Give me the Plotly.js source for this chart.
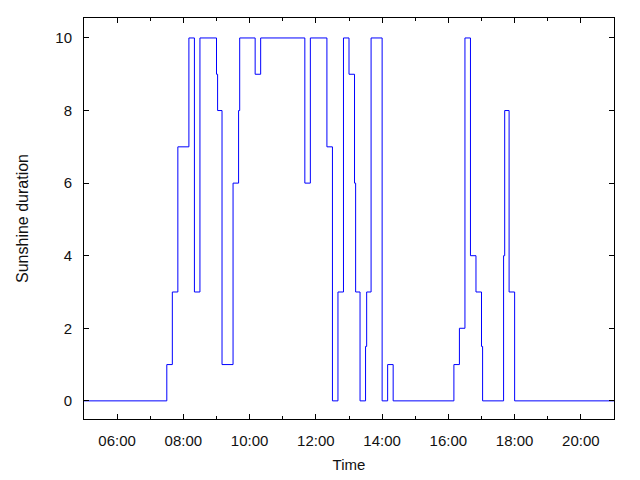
<!DOCTYPE html>
<html>
<head>
<meta charset="utf-8">
<script src="https://cdn.plot.ly/plotly-3.0.1.min.js"></script>
<style>html,body{margin:0;padding:0;background:#fff}#chart{width:640px;height:480px}</style>
</head>
<body>
<div id="chart"></div>
<script>
// Sunshine duration per 10-minute interval (step plot)
const times = ["05:00","07:30","07:40","07:50","08:10","08:20","08:30","09:00","09:02","09:10",
               "09:30","09:40","09:42","10:10","10:20","11:40","11:50","12:20","12:30","12:40",
               "12:50","13:00","13:10","13:12","13:20","13:30","13:32","13:40","14:00","14:10",
               "14:20","16:10","16:20","16:30","16:40","16:50","17:00","17:02","17:40","17:42",
               "17:50","18:00","21:00"];
const sunshine = [0,1,3,7,10,3,10,9,8,1,
                  6,8,10,9,10,6,10,7,0,3,
                  10,9,6,3,0,1.5,3,10,0,1,
                  0,1,2,10,4,3,1.5,0,4,8,
                  3,0,0];
const xTickLabels = ["06:00","08:00","10:00","12:00","14:00","16:00","18:00","20:00"];
const yTickValues = [0,2,4,6,8,10];
const day = "2000-01-01 ";

const xs = times.map(t => day + t);
const tickvals = xTickLabels.map(t => day + t);

const trace = {
  x: xs, y: sunshine, type: "scatter", mode: "lines",
  line: {shape: "hv", color: "#0000ff", width: 1},
  hoverinfo: "skip"
};

const font = {family: "Liberation Sans, Arial, sans-serif", size: 15, color: "#111"};

const layout = {
  width: 640, height: 480,
  margin: {l: 84, r: 26, t: 18, b: 61, pad: 0},
  paper_bgcolor: "#fff", plot_bgcolor: "#fff",
  font: font,
  showlegend: false,
  xaxis: {
    type: "date",
    range: [day + "05:00", day + "21:00"],
    tickvals: tickvals, ticktext: xTickLabels,
    ticks: "inside", ticklen: 5, tickwidth: 1, tickcolor: "#000",
    minor: {dtick: 3600000, tick0: day + "05:00", ticks: "inside", ticklen: 3, tickcolor: "#000", showgrid: false},
    showline: true, linecolor: "#000", linewidth: 1, mirror: "ticks",
    showgrid: false, zeroline: false,
    tickfont: font, ticklabelstandoff: 8,
    title: {text: "Time", font: font, standoff: 11}
  },
  yaxis: {
    range: [-0.5, 10.55],
    tickvals: yTickValues,
    ticks: "inside", ticklen: 5, tickwidth: 1, tickcolor: "#000",
    showline: true, linecolor: "#000", linewidth: 1, mirror: "ticks",
    showgrid: false, zeroline: false,
    tickfont: font, ticklabelstandoff: 8,
    title: {text: "Sunshine duration", font: {family: font.family, size: 16, color: "#111"}, standoff: 22}
  }
};

Plotly.newPlot("chart", [trace], layout, {staticPlot: true, displayModeBar: false});
</script>
</body>
</html>
